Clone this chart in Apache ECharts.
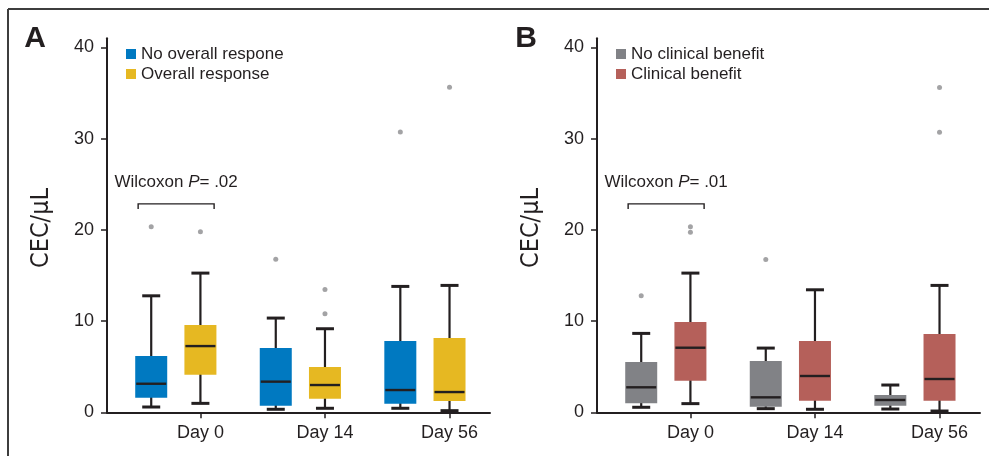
<!DOCTYPE html>
<html><head><meta charset="utf-8">
<script src="https://cdn.jsdelivr.net/npm/echarts@6/dist/echarts.min.js"></script>
<style>html,body{margin:0;padding:0;background:#fff}#c{width:989px;height:456px}</style>
</head><body><div id="c"></div>
<script>
// ---------- data ----------
const days = ['Day 0', 'Day 14', 'Day 56'];
const yTicks = [0, 10, 20, 30, 40];
// box stats per day: [lower whisker, Q1, median, Q3, upper whisker]
const noResponseBox = [[0.58, 1.6, 3.13, 6.17, 12.77], [0.33, 0.73, 3.36, 7.04, 10.33], [0.44, 0.94, 2.44, 7.81, 13.8]];
const responseBox   = [[0.98, 4.12, 7.26, 9.56, 15.26], [0.44, 1.49, 2.99, 4.96, 9.16], [0.18, 1.24, 2.22, 8.14, 13.91]];
const noResponseOut = [[0, 20.33], [1, 16.79], [2, 30.73]];
const responseOut   = [[0, 19.78], [1, 13.47], [1, 10.8], [2, 35.63]];
const noBenefitBox  = [[0.55, 0.98, 2.74, 5.51, 8.65], [0.40, 0.62, 1.64, 5.62, 7.04], [0.36, 0.73, 1.35, 1.89, 2.99]];
const benefitBox    = [[0.95, 3.47, 7.08, 9.89, 15.26], [0.33, 1.27, 3.98, 7.81, 13.43], [0.14, 1.27, 3.65, 8.58, 13.91]];
const noBenefitOut  = [[0, 12.77], [1, 16.75]];
const benefitOut    = [[0, 20.33], [0, 19.75], [2, 35.6], [2, 30.7]];
const seriesNames = [['No overall respone', 'Overall response'], ['No clinical benefit', 'Clinical benefit']];
const pValues = ['.02', '.01'];
const panelLetters = ['A', 'B'];
const yTitle = 'CEC/\u03bcL';

// ---------- styles ----------
const FONT = '"Liberation Sans", Arial, sans-serif';
const INK = '#231f20';
const colors = [['#0079c1', '#e6b822'], ['#818286', '#b5605a']];
const OFFSET = [-0.395, 0];

const chart = echarts.init(document.getElementById('c'), null, {renderer: 'canvas'});

function boxSeries(name, stats, color, offset, idx) {
  return {
    type: 'custom', name: name, xAxisIndex: idx, yAxisIndex: idx, silent: true,
    itemStyle: {color: color},
    data: stats.map((s, i) => [i].concat(s)),
    encode: {x: 0, y: [1, 2, 3, 4, 5]},
    renderItem: function (params, api) {
      const x = api.value(0) + offset;
      const lo = api.coord([x, api.value(1)]);
      const q1 = api.coord([x, api.value(2)]);
      const md = api.coord([x, api.value(3)]);
      const q3 = api.coord([x, api.value(4)]);
      const hi = api.coord([x, api.value(5)]);
      const cx = lo[0], bw = 32, cw = 18;
      return {type: 'group', children: [
        {type: 'line', shape: {x1: cx, y1: lo[1], x2: cx, y2: hi[1]}, style: {stroke: INK, lineWidth: 2.2}},
        {type: 'rect', shape: {x: cx - bw / 2, y: q3[1], width: bw, height: q1[1] - q3[1]}, style: {fill: color}},
        {type: 'line', shape: {x1: cx - bw / 2 + 1, y1: md[1], x2: cx + bw / 2 - 1, y2: md[1]}, style: {stroke: INK, lineWidth: 2.4}},
        {type: 'line', shape: {x1: cx - cw / 2, y1: lo[1], x2: cx + cw / 2, y2: lo[1]}, style: {stroke: INK, lineWidth: 3}},
        {type: 'line', shape: {x1: cx - cw / 2, y1: hi[1], x2: cx + cw / 2, y2: hi[1]}, style: {stroke: INK, lineWidth: 3}}
      ]};
    }
  };
}
function outSeries(name, pts, offset, idx) {
  return {
    type: 'scatter', name: name, xAxisIndex: idx, yAxisIndex: idx, silent: true,
    symbol: 'circle', symbolSize: 5, itemStyle: {color: '#8c8c8e'},
    data: pts.map(p => [p[0] + offset, p[1]])
  };
}
function bracketSeries(idx, p) {
  return {
    type: 'custom', name: 'bracket' + idx, xAxisIndex: idx, yAxisIndex: idx, silent: true,
    data: [[-0.5, 0.11, 22.85, 22.3, -0.195, 25.25]],
    renderItem: function (params, api) {
      const a = api.coord([api.value(0), api.value(2)]);
      const b = api.coord([api.value(1), api.value(2)]);
      const legY = api.coord([0, api.value(3)])[1];
      const t = api.coord([api.value(4), api.value(5)]);
      return {type: 'group', children: [
        {type: 'polyline', shape: {points: [[a[0], legY], [a[0], a[1]], [b[0], b[1]], [b[0], legY]]}, style: {stroke: INK, lineWidth: 1.4, fill: null}},
        {type: 'text', x: t[0], y: t[1], style: {
          text: '{n|Wilcoxon }{i|P}{n|= ' + p + '}', align: 'center', verticalAlign: 'middle',
          rich: {n: {fontSize: 17, fontFamily: FONT, fill: INK}, i: {fontSize: 17, fontFamily: FONT, fontStyle: 'italic', fill: INK}}
        }}
      ]};
    }
  };
}

const grids = [
  {left: 107, top: 38.3, right: 499, bottom: 43.7},
  {left: 597, top: 38.3, right: 9, bottom: 43.7}
];
const xAxes = grids.map((g, i) => ({
  type: 'value', gridIndex: i, min: -0.75, max: 2.325,
  axisLine: {show: true, onZero: false, lineStyle: {color: INK, width: 2}},
  axisTick: {show: true, customValues: [0, 1, 2], length: 6, lineStyle: {color: INK, width: 1.5}},
  axisLabel: {customValues: [0, 1, 2], formatter: v => days[Math.round(v)], fontSize: 18, fontFamily: FONT, color: INK, margin: 12},
  splitLine: {show: false}
}));
const yAxes = grids.map((g, i) => ({
  type: 'value', gridIndex: i, min: 0, max: 41,
  axisLine: {show: true, onZero: false, lineStyle: {color: INK, width: 2}},
  axisTick: {show: true, customValues: yTicks, length: 6, lineStyle: {color: INK, width: 1.5}},
  axisLabel: {customValues: yTicks, fontSize: 18, fontFamily: FONT, color: INK, margin: 13},
  splitLine: {show: false}
}));

const boxes = [[noResponseBox, responseBox], [noBenefitBox, benefitBox]];
const outs = [[noResponseOut, responseOut], [noBenefitOut, benefitOut]];
const series = [];
[0, 1].forEach(p => {
  [0, 1].forEach(g => {
    series.push(boxSeries(seriesNames[p][g], boxes[p][g], colors[p][g], OFFSET[g], p));
  });
  [0, 1].forEach(g => {
    series.push(outSeries('out' + p + g, outs[p][g], OFFSET[g], p));
  });
  series.push(bracketSeries(p, pValues[p]));
});

const legends = [0, 1].map(p => ({
  data: seriesNames[p], left: 126 + 490 * p, top: 44, orient: 'vertical', padding: 0,
  icon: 'rect', itemWidth: 10, itemHeight: 10, itemGap: 0, selectedMode: false,
  textStyle: {fontSize: 17, fontFamily: FONT, color: INK, lineHeight: 20}
}));

const graphics = [
  {type: 'line', shape: {x1: 8, y1: 9, x2: 989, y2: 9}, style: {stroke: '#3d3d3d', lineWidth: 2}},
  {type: 'line', shape: {x1: 8, y1: 9, x2: 8, y2: 456}, style: {stroke: '#3d3d3d', lineWidth: 2}}
];
[0, 1].forEach(p => {
  graphics.push({type: 'text', x: 35 + 491 * p, y: 39, style: {text: panelLetters[p], font: 'bold 30px ' + FONT, fill: INK, align: 'center', verticalAlign: 'middle'}});
  graphics.push({type: 'text', x: 41 + 490.5 * p, y: 228, rotation: Math.PI / 2, style: {text: yTitle, font: '25px "Liberation Sans Narrow", "DejaVu Sans Condensed", sans-serif', fill: INK, align: 'center', verticalAlign: 'middle'}});
});

chart.setOption({
  animation: false,
  backgroundColor: '#fff',
  grid: grids,
  xAxis: xAxes,
  yAxis: yAxes,
  legend: legends,
  graphic: graphics,
  series: series
});
</script></body></html>
